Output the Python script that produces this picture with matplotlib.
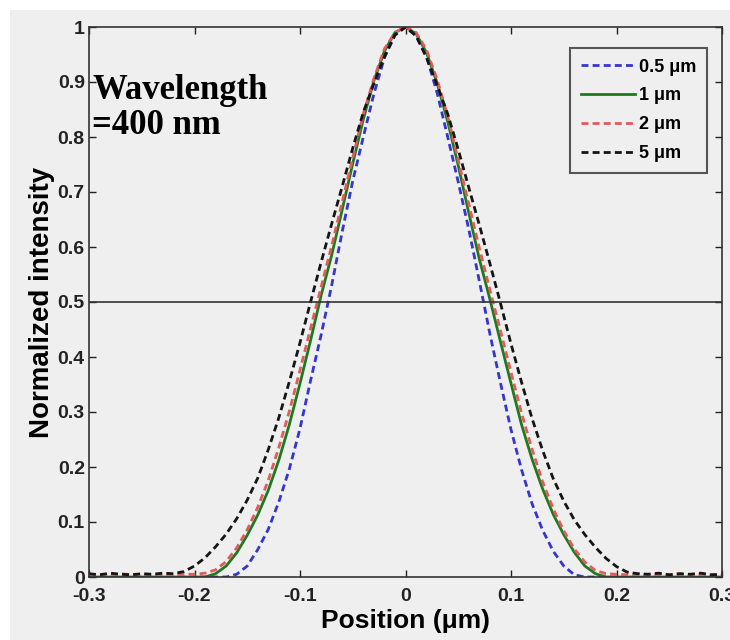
import matplotlib
matplotlib.use("Agg")
from matplotlib import pyplot as plt
from matplotlib.patches import Rectangle

plt.rcParams['axes.unicode_minus'] = False

# sampled positions (um)
position = [-0.30, -0.29, -0.28, -0.27, -0.26, -0.25, -0.24, -0.23, -0.22, -0.21,
            -0.20, -0.19, -0.18, -0.17, -0.16, -0.15, -0.14, -0.13, -0.12, -0.11,
            -0.10, -0.09, -0.08, -0.07, -0.06, -0.05, -0.04, -0.03, -0.02, -0.01,
            0.00, 0.01, 0.02, 0.03, 0.04, 0.05, 0.06, 0.07, 0.08, 0.09,
            0.10, 0.11, 0.12, 0.13, 0.14, 0.15, 0.16, 0.17, 0.18, 0.19,
            0.20, 0.21, 0.22, 0.23, 0.24, 0.25, 0.26, 0.27, 0.28, 0.29, 0.30]

# normalized intensity per film thickness
int_05um = [0, 0, 0, 0, 0, 0, 0, 0, 0, 0,
            0, 0, 0, 0.0, 0.005, 0.02, 0.05, 0.087, 0.137, 0.197,
            0.27, 0.357, 0.44, 0.53, 0.628, 0.72, 0.80, 0.878, 0.944, 0.985,
            1.0, 0.984, 0.946, 0.88, 0.80, 0.718, 0.632, 0.538, 0.442, 0.353,
            0.268, 0.195, 0.133, 0.085, 0.047, 0.02, 0.004, 0.0, 0, 0,
            0, 0, 0, 0, 0, 0, 0, 0, 0, 0, 0]

int_1um = [0, 0, 0, 0, 0, 0, 0, 0, 0, 0,
           0, 0.0, 0.006, 0.02, 0.044, 0.076, 0.113, 0.158, 0.213, 0.278,
           0.352, 0.43, 0.512, 0.585, 0.668, 0.752, 0.832, 0.902, 0.956, 0.99,
           1.0, 0.988, 0.953, 0.898, 0.828, 0.748, 0.662, 0.578, 0.505, 0.428,
           0.352, 0.277, 0.214, 0.16, 0.114, 0.077, 0.045, 0.02, 0.006, 0.0,
           0, 0, 0, 0, 0, 0, 0, 0, 0, 0, 0]

int_2um = [0.004, 0.005, 0.003, 0.006, 0.004, 0.005, 0.003, 0.006, 0.004, 0.005,
           0.005, 0.007, 0.013, 0.028, 0.053, 0.086, 0.127, 0.176, 0.236, 0.302,
           0.376, 0.452, 0.527, 0.602, 0.682, 0.762, 0.842, 0.906, 0.96, 0.99,
           1.0, 0.99, 0.958, 0.904, 0.838, 0.758, 0.678, 0.598, 0.522, 0.448,
           0.372, 0.298, 0.232, 0.173, 0.124, 0.084, 0.051, 0.027, 0.012, 0.006,
           0.005, 0.004, 0.006, 0.003, 0.005, 0.004, 0.006, 0.003, 0.005, 0.004, 0.004]

int_5um = [0.006, 0.004, 0.007, 0.005, 0.004, 0.006, 0.005, 0.007, 0.006, 0.01,
           0.02, 0.035, 0.055, 0.078, 0.106, 0.14, 0.18, 0.232, 0.29, 0.356,
           0.426, 0.50, 0.572, 0.642, 0.71, 0.78, 0.845, 0.897, 0.946, 0.986,
           1.0, 0.984, 0.944, 0.894, 0.842, 0.777, 0.708, 0.64, 0.57, 0.498,
           0.424, 0.354, 0.288, 0.23, 0.179, 0.138, 0.104, 0.077, 0.054, 0.034,
           0.019, 0.009, 0.006, 0.005, 0.007, 0.004, 0.006, 0.005, 0.007, 0.004, 0.005]

labels = ['0.5 \u03bcm', '1 \u03bcm', '2 \u03bcm', '5 \u03bcm']
half_max = 0.5

bg = '#efefef'
fig = plt.figure(figsize=(7.3, 6.4), dpi=100, facecolor='white')
fig.patches.append(Rectangle((10 / 730, 0), 1, 1 - 10 / 640, transform=fig.transFigure,
                             facecolor=bg, edgecolor='none', zorder=-10))
ax = fig.add_axes([89 / 730, 1 - 577 / 640, 633 / 730, 550 / 640])
ax.set_facecolor(bg)

lw = 2.0
ax.plot(position, int_05um, color='#3535d0', lw=lw, dashes=(2.5, 1.5), label=labels[0])
ax.plot(position, int_1um, color='#1f7a1f', lw=lw, label=labels[1])
ax.plot(position, int_2um, color='#e25a5a', lw=lw, dashes=(2.5, 1.5), label=labels[2])
ax.plot(position, int_5um, color='#151515', lw=lw, dashes=(2.5, 1.5), label=labels[3])
ax.axhline(half_max, color='#333333', lw=1.2)

ax.set_xlim(-0.3, 0.3)
ax.set_ylim(0, 1)
xt = [-0.3, -0.2, -0.1, 0, 0.1, 0.2, 0.3]
yt = [0, 0.1, 0.2, 0.3, 0.4, 0.5, 0.6, 0.7, 0.8, 0.9, 1]
ax.set_xticks(xt)
ax.set_xticklabels([f'{v:g}' for v in xt])
ax.set_yticks(yt)
ax.set_yticklabels([f'{v:g}' for v in yt])
ax.tick_params(direction='in', top=True, right=True, length=5, width=1, colors='#222222')
ax.tick_params(axis='x', pad=8)
ax.tick_params(axis='y', pad=3)
for lab in ax.get_xticklabels() + ax.get_yticklabels():
    lab.set_fontweight('bold')
    lab.set_fontsize(14)
    lab.set_family('Liberation Sans')
for s in ax.spines.values():
    s.set_color('#333333')
    s.set_linewidth(1.2)

ax.set_xlabel('Position (\u03bcm)', fontsize=19, fontweight='bold', family='Liberation Sans', labelpad=3)
ax.set_ylabel('Normalized intensity', fontsize=20, fontweight='bold', family='Liberation Sans', labelpad=2)

ax.text(0.005, 0.915, 'Wavelength\n=400 nm', transform=ax.transAxes, ha='left', va='top',
        fontsize=25, fontweight='bold', family='Liberation Serif', linespacing=1.08)

leg = ax.legend(loc='upper right', bbox_to_anchor=(0.976, 0.962), borderaxespad=0,
                prop={'family': 'Liberation Sans', 'weight': 'bold', 'size': 13},
                handlelength=3.0, handletextpad=0.2, labelspacing=0.65,
                fancybox=False, framealpha=1, facecolor=bg, edgecolor='#555555',
                borderpad=0.6)
leg.get_frame().set_linewidth(1.5)

fig.savefig('out.png', dpi=100, facecolor=fig.get_facecolor())
